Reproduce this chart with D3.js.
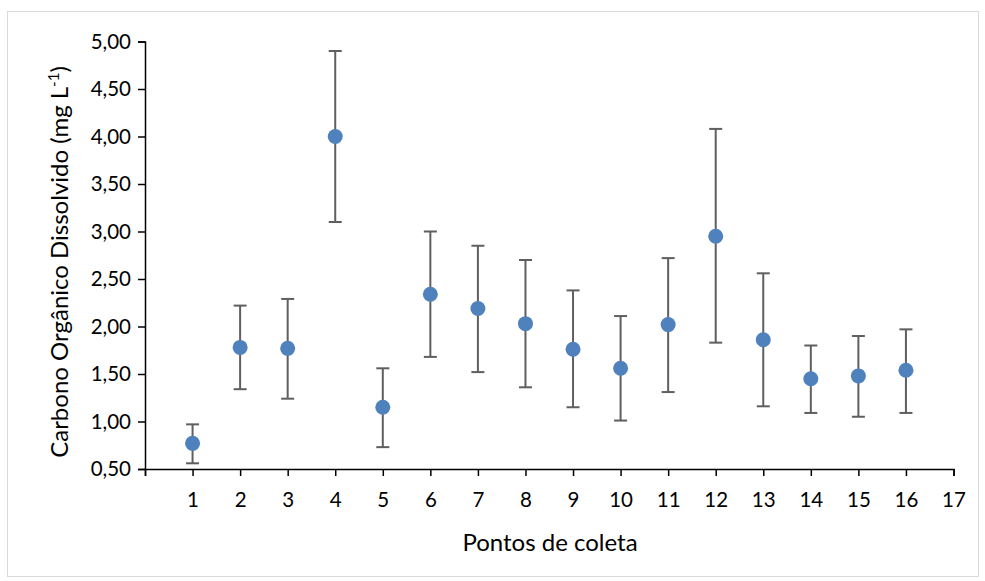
<!DOCTYPE html>
<html>
<head>
<meta charset="utf-8">
<script src="https://cdn.jsdelivr.net/npm/d3@7"></script>
<style>
  html, body { margin: 0; padding: 0; background: #fff; }
  svg { display: block; }
  text { font-family: Lato, "Open Sans", sans-serif; fill: #000; }
</style>
</head>
<body>
<svg id="chart" width="985" height="581"></svg>
<script>
// Sampling points (Pontos de coleta)
const points = [1, 2, 3, 4, 5, 6, 7, 8, 9, 10, 11, 12, 13, 14, 15, 16];
// Mean dissolved organic carbon (mg L-1)
const means = [0.77, 1.78, 1.77, 4.00, 1.15, 2.34, 2.19, 2.03, 1.76, 1.56, 2.02, 2.95, 1.86, 1.45, 1.48, 1.54];
// Error bar limits
const upper = [0.97, 2.22, 2.29, 4.90, 1.56, 3.00, 2.85, 2.70, 2.38, 2.11, 2.72, 4.08, 2.56, 1.80, 1.90, 1.97];
const lower = [0.56, 1.34, 1.24, 3.10, 0.73, 1.68, 1.52, 1.36, 1.15, 1.01, 1.31, 1.83, 1.16, 1.09, 1.05, 1.09];
// Axis ticks
const xTicks = d3.range(0, 18);
const yTicks = [0.5, 1.0, 1.5, 2.0, 2.5, 3.0, 3.5, 4.0, 4.5, 5.0];

const svg = d3.select("#chart");

// Chart area frame
svg.append("rect")
  .attr("x", 7.5).attr("y", 11.5)
  .attr("width", 971).attr("height", 565)
  .attr("fill", "#fff").attr("stroke", "#d9d9d9").attr("stroke-width", 1);

const plot = { left: 145, right: 953.5, top: 41.5, bottom: 469 };

const x = d3.scaleLinear().domain([0, 17]).range([plot.left, plot.right]);
const y = d3.scaleLinear().domain([0.5, 5.0]).range([plot.bottom, plot.top]);

const fmt = v => d3.format(".2f")(v).replace(".", ",");

// Y axis
const yAxis = svg.append("g")
  .attr("transform", `translate(${plot.left},0)`)
  .call(d3.axisLeft(y).tickValues(yTicks).tickFormat(fmt).tickSize(7).tickPadding(7));
yAxis.select(".domain").attr("stroke", "#000").attr("stroke-width", 1.5);
yAxis.selectAll(".tick line").attr("stroke", "#000").attr("stroke-width", 1.5);
yAxis.selectAll(".tick text").attr("font-size", 20.5).attr("font-family", "Lato, sans-serif").attr("fill", "#000");

// X axis
const xAxis = svg.append("g")
  .attr("transform", `translate(0,${plot.bottom})`)
  .call(d3.axisBottom(x).tickValues(xTicks).tickFormat(d => d === 0 ? "" : d).tickSize(7).tickPadding(16));
xAxis.select(".domain").attr("stroke", "#000").attr("stroke-width", 1.5);
xAxis.selectAll(".tick line").attr("stroke", "#000").attr("stroke-width", 1.5);
xAxis.selectAll(".tick text").attr("font-size", 20.5).attr("font-family", "Lato, sans-serif").attr("fill", "#000");

// Error bars
const eb = svg.append("g").attr("stroke", "#5f5f5f").attr("stroke-width", 2).attr("fill", "none");
const capHalf = 6.5;
points.forEach((p, i) => {
  const cx = x(p);
  eb.append("line").attr("x1", cx).attr("x2", cx).attr("y1", y(upper[i])).attr("y2", y(lower[i]));
  eb.append("line").attr("x1", cx - capHalf).attr("x2", cx + capHalf).attr("y1", y(upper[i])).attr("y2", y(upper[i]));
  eb.append("line").attr("x1", cx - capHalf).attr("x2", cx + capHalf).attr("y1", y(lower[i])).attr("y2", y(lower[i]));
});

// Mean markers
svg.append("g").selectAll("circle")
  .data(points)
  .join("circle")
  .attr("cx", d => x(d))
  .attr("cy", (d, i) => y(means[i]))
  .attr("r", 7.5)
  .attr("fill", "#4f81bd");

// Axis titles
svg.append("text")
  .attr("x", 550)
  .attr("y", 551)
  .attr("text-anchor", "middle")
  .attr("font-size", 24)
  .text("Pontos de coleta");

const yt = svg.append("text")
  .attr("transform", "translate(68,262) rotate(-90)")
  .attr("text-anchor", "middle")
  .attr("font-size", 24);
yt.append("tspan").text("Carbono Orgânico Dissolvido (mg L");
yt.append("tspan").attr("font-size", 15).attr("dy", -9).text("-1");
yt.append("tspan").attr("dy", 9).text(")");
</script>
</body>
</html>
